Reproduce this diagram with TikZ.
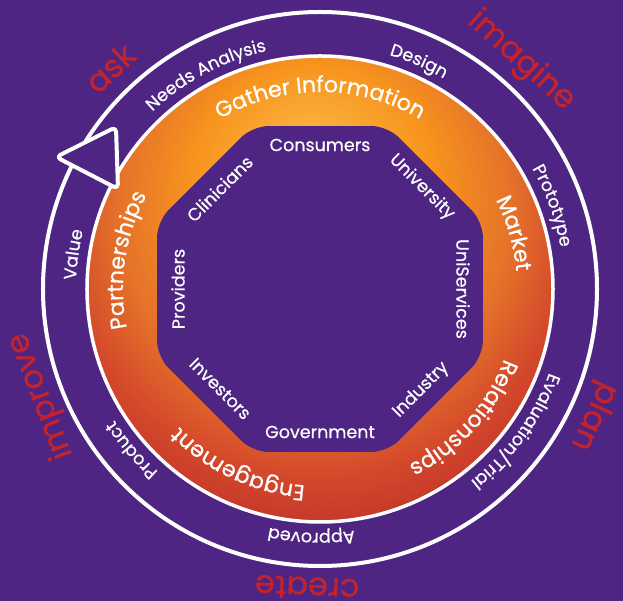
\documentclass[tikz,border=0pt]{standalone}
\usepackage{fontspec}
\setmainfont{Poppins}[FakeBold=0.6]
\usetikzlibrary{decorations.text}
\definecolor{bgpurple}{HTML}{4E2582}
\definecolor{wordred}{HTML}{C4232C}
\definecolor{hiY}{HTML}{FCB94B}
\definecolor{hiYb}{HTML}{FAAB38}
\definecolor{orgM}{HTML}{F7941D}
\definecolor{orgD}{HTML}{E5732A}
\definecolor{redA}{HTML}{D4492B}
\definecolor{redE}{HTML}{C5382B}
\pgfdeclareradialshading{ringshade}{\pgfpoint{-1bp}{15bp}}{color(0bp)=(hiY); color(5bp)=(hiYb); color(13bp)=(orgM); color(21bp)=(orgD); color(27bp)=(redA); color(31bp)=(redE); color(50bp)=(redE)}
\newcommand{\ringfont}{\fontsize{22}{22}\selectfont}
\newcommand{\bandfont}{\fontsize{17.5}{17.5}\selectfont}
\newcommand{\arctext}[4]{\path[decorate,decoration={text along path,text align=center,text color=white,text={|#3|#4}}] (#2+85:#1) arc[start angle=#2+85,end angle=#2-85,radius=#1];}
\tikzset{
  octlabel/.style={text=white,font=\fontsize{17.5}{17.5}\selectfont,inner sep=0pt},
  redword/.style={text=wordred,font=\fontsize{32}{32}\selectfont,inner sep=0pt},
  ringline/.style={draw=white,line width=3.5pt},
}
\begin{document}
\begin{tikzpicture}[x=1pt,y=1pt]
\fill[bgpurple] (-320,-312) rectangle (303,289);
\useasboundingbox (-320,-312) rectangle (303,289);
% orange ring
\shade[shading=ringshade] (0,0) circle[radius=233];
\fill[bgpurple,rounded corners=16] (22.5:176.4) -- (67.5:176.4) -- (112.5:176.4) -- (157.5:176.4) -- (202.5:176.4) -- (247.5:176.4) -- (292.5:176.4) -- (337.5:176.4) -- cycle;
\draw[ringline] (0,0) circle[radius=233];
\draw[ringline,line width=4pt] (0,0) circle[radius=277];
% arrow head
\filldraw[fill=bgpurple,draw=white,line width=4pt,rounded corners=5pt,line join=round] (-264,132) -- (-204,162) -- (-202,100) -- cycle;
% ring labels
\arctext{197}{90}{\ringfont}{Gather Information}
\arctext{197}{16}{\ringfont}{Market}
\arctext{197}{-42}{\ringfont}{Relationships}
\arctext{197}{-115}{\ringfont}{Engagement}
\arctext{197}{171.5}{\ringfont}{Partnerships}
% band labels
\arctext{244}{118}{\bandfont}{Needs Analysis}
\arctext{244}{66.5}{\bandfont}{Design}
\arctext{244}{19.7}{\bandfont}{Prototype}
\arctext{244}{-36}{\bandfont}{Evaluation/Trial}
\arctext{244}{-92}{\bandfont}{Approved}
\arctext{244}{-139.5}{\bandfont}{Product}
\arctext{244}{172}{\bandfont}{Value}
% octagon labels
\node[octlabel] (consumers) at (90:144) {Consumers};
\node[octlabel,rotate=-45] (university) at (45:144) {University};
\node[octlabel,rotate=-90] (uniservices) at (0:143) {UniServices};
\node[octlabel,rotate=45] (industry) at (-45:143) {Industry};
\node[octlabel] (government) at (-90:143) {Government};
\node[octlabel,rotate=-45] (investors) at (-135:141) {Investors};
\node[octlabel,rotate=90] (providers) at (180:142) {Providers};
\node[octlabel,rotate=45] (clinicians) at (135:142) {Clinicians};
% red words
\node[redword,rotate=43] (ask) at (-210,221) {ask};
\node[redword,rotate=-42] (imagine) at (201,228) {imagine};
\node[redword,rotate=-115] (plan) at (273,-127) {plan};
\node[redword,rotate=177.5] (create) at (-13,-299) {create};
\node[redword,rotate=111] (improve) at (-279,-107) {improve};
\end{tikzpicture}
\end{document}
